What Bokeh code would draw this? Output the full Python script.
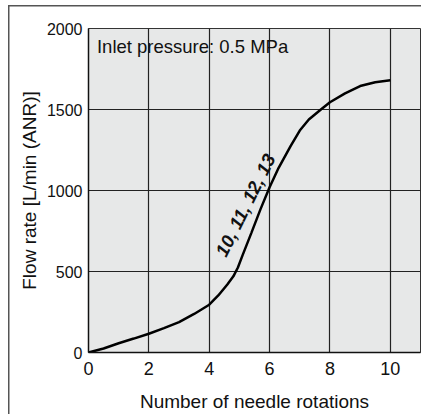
from bokeh.plotting import figure
from bokeh.models import FixedTicker, ColumnDataSource
from bokeh.core.properties import value
from bokeh.embed import file_html
from bokeh.resources import INLINE
import math

# needle rotations
rotations = [0, 0.5, 1, 1.5, 2, 2.5, 3, 3.5, 4, 4.3, 4.6, 4.8, 4.95, 5.1, 5.4, 5.7,
             6.0, 6.3, 6.7, 7.0, 7.3, 7.7, 8.0, 8.5, 9.0, 9.5, 10]
# flow rate L/min (ANR)
flow = [0, 25, 57, 86, 116, 150, 188, 238, 295, 352, 420, 470, 525, 598, 740, 885,
        1020, 1140, 1275, 1370, 1438, 1500, 1545, 1600, 1645, 1668, 1680]

x_ticks = [0, 2, 4, 6, 8, 10]
y_ticks = [0, 500, 1000, 1500, 2000]
note = "Inlet pressure: 0.5 MPa"
curve_label = "10, 11, 12, 13"

FONT = "Liberation Sans"

p = figure(width=421, height=414, output_backend="svg", toolbar_location=None,
           x_range=(0, 11), y_range=(0, 2000),
           min_border_left=88, min_border_right=1, min_border_top=28,
           min_border_bottom=61)
p.border_fill_color = None
p.styles = {"box-shadow": "inset 8px 5px 0 0 #ffffff, inset 9.5px 6.5px 0 0 #555555"}
p.background_fill_color = "#e7e8e8"
p.outline_line_color = "#333333"
p.outline_line_width = 1

for ax in (p.xaxis[0], p.yaxis[0]):
    ax.axis_line_color = "#111111"
    ax.axis_line_width = 1.5
    ax.major_tick_out = 0
    ax.major_tick_in = 0
    ax.minor_tick_out = 0
    ax.minor_tick_in = 0
    ax.major_label_text_font = FONT
    ax.major_label_text_color = "#111111"
    ax.axis_label_text_font = FONT
    ax.axis_label_text_font_size = "19px"
    ax.axis_label_text_font_style = "normal"
    ax.axis_label_text_color = "#111111"

p.xaxis.major_label_text_font_size = "18px"
p.yaxis.major_label_text_font_size = "16px"
p.xaxis.ticker = FixedTicker(ticks=x_ticks)
p.yaxis.ticker = FixedTicker(ticks=y_ticks)
p.xaxis.major_label_standoff = 9
p.yaxis.major_label_standoff = 6
p.xaxis.axis_label = "Number of needle rotations"
p.yaxis.axis_label = "Flow rate [L/min (ANR)]"
p.xaxis.axis_label_standoff = 13
p.yaxis.axis_label_standoff = 4

p.xgrid.ticker = FixedTicker(ticks=x_ticks)
p.ygrid.ticker = FixedTicker(ticks=y_ticks)
for g in (p.xgrid[0], p.ygrid[0]):
    g.grid_line_color = "#222222"
    g.grid_line_width = 1.2
    g.grid_line_alpha = 1

src = ColumnDataSource(dict(x=rotations, y=flow))
p.line("x", "y", source=src, line_color="black", line_width=2.5)

p.text(x=[0.28], y=[1955], text=[note], text_font=value(FONT),
       text_font_size="18.5px", text_color="#111111",
       text_baseline="top", text_align="left")

p.text(x=[5.2], y=[910], text=[curve_label], text_font=value(FONT),
       text_font_size="18.5px", text_font_style="bold italic",
       text_color="#111111", text_align="center", text_baseline="middle",
       angle=math.radians(63.5))

open("out.html", "w").write(file_html(p, INLINE))
